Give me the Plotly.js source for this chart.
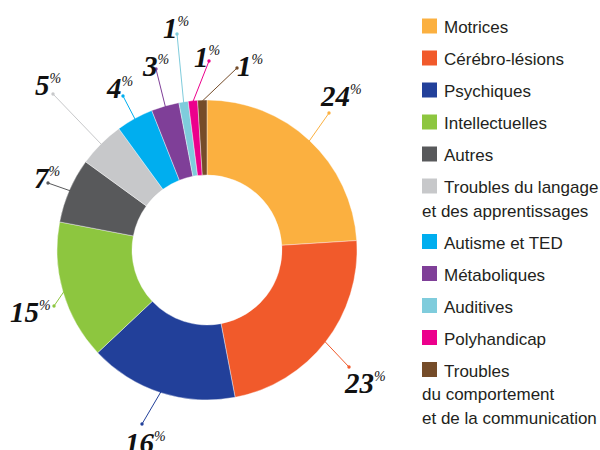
<!DOCTYPE html>
<html><head><meta charset="utf-8">
<script src="https://cdn.plot.ly/plotly-3.0.1.min.js"></script>
<style>html,body{margin:0;padding:0;background:#fff}#chart{width:600px;height:450px}</style>
</head><body><div id="chart"></div>
<script>
const categories = ["Motrices", "Cérébro-lésions", "Psychiques", "Intellectuelles", "Autres",
  "Troubles du langage\net des apprentissages", "Autisme et TED", "Métaboliques", "Auditives",
  "Polyhandicap", "Troubles\ndu comportement\net de la communication"];
const values = [24, 23, 16, 15, 7, 5, 4, 3, 1, 1, 1];
const colors = ["#FBB040", "#F15A2B", "#22409A", "#8DC63F", "#58595B", "#C7C8CA",
  "#00AEEF", "#7F3F98", "#7FCCDC", "#EC008C", "#754C29"];

// label layout (pixels)
const dotX = [329, 349, 142, 54, 48, 53, 123, 156, 177, 209, 237];
const dotY = [113, 367, 424, 306, 183, 94, 96, 69, 34, 61, 68];
const textX = [341, 365, 145, 30, 47, 48, 119, 155, 176, 207, 250];
const textY = [96, 383, 443, 312, 178, 85, 88, 66, 28, 57, 66];

const W = 600, H = 450;
const cx = 207, cy = 250, R = 150;
const px = x => x / W, py = y => 1 - y / H;

const total = values.reduce((a, b) => a + b, 0);
const shapes = [], annotations = [];
let cum = 0;
values.forEach((v, i) => {
  const th = 2 * Math.PI * (cum + v / 2) / total;
  cum += v;
  const ex = cx + (R - 1) * Math.sin(th), ey = cy - (R - 1) * Math.cos(th);
  shapes.push({type: 'line', xref: 'paper', yref: 'paper', x0: px(ex), y0: py(ey),
    x1: px(dotX[i]), y1: py(dotY[i]), line: {color: colors[i], width: 1}});
  shapes.push({type: 'circle', xref: 'paper', yref: 'paper', x0: px(dotX[i] - 1.7), x1: px(dotX[i] + 1.7),
    y0: py(dotY[i] + 1.7), y1: py(dotY[i] - 1.7), fillcolor: colors[i], line: {width: 0}});
  annotations.push({xref: 'paper', yref: 'paper', x: px(textX[i]), y: py(textY[i]),
    xanchor: 'center', yanchor: 'middle', showarrow: false,
    text: v + "<sup><span style='font-size:14px;font-weight:normal'>%</span></sup>",
    font: {family: 'Liberation Serif, Times New Roman, serif', size: 29, color: '#111', weight: 'bold', style: 'italic'}});
});

// legend (drawn as shapes + text)
let base = 33.5;
const rowGap = 32, lineGap = 23.5;
categories.forEach((c, i) => {
  const lines = c.split("\n");
  shapes.push({type: 'rect', xref: 'paper', yref: 'paper', x0: px(422), x1: px(437),
    y0: py(base), y1: py(base - 15), fillcolor: colors[i], line: {width: 0}});
  lines.forEach((t, j) => {
    annotations.push({xref: 'paper', yref: 'paper', x: px(j === 0 ? 442 : 420), y: py(base + j * lineGap - 6),
      xanchor: 'left', yanchor: 'middle', showarrow: false, text: t,
      font: {family: 'Liberation Sans, Arial, sans-serif', size: 17, color: '#231F20'}});
  });
  base += rowGap + (lines.length - 1) * lineGap;
});

const data = [{
  type: 'pie', labels: categories, values: values, sort: false, direction: 'clockwise',
  rotation: 0, hole: 0.5, textinfo: 'none', hoverinfo: 'label+percent',
  marker: {colors: colors, line: {color: '#ffffff', width: 0.4}},
  domain: {x: [px(cx - R), px(cx + R)], y: [py(cy + R), py(cy - R)]}
}];
const layout = {width: W, height: H, margin: {l: 0, r: 0, t: 0, b: 0}, showlegend: false,
  paper_bgcolor: '#fff', plot_bgcolor: '#fff', shapes: shapes, annotations: annotations};
Plotly.newPlot('chart', data, layout, {displayModeBar: false, staticPlot: true});
</script>
</body></html>
